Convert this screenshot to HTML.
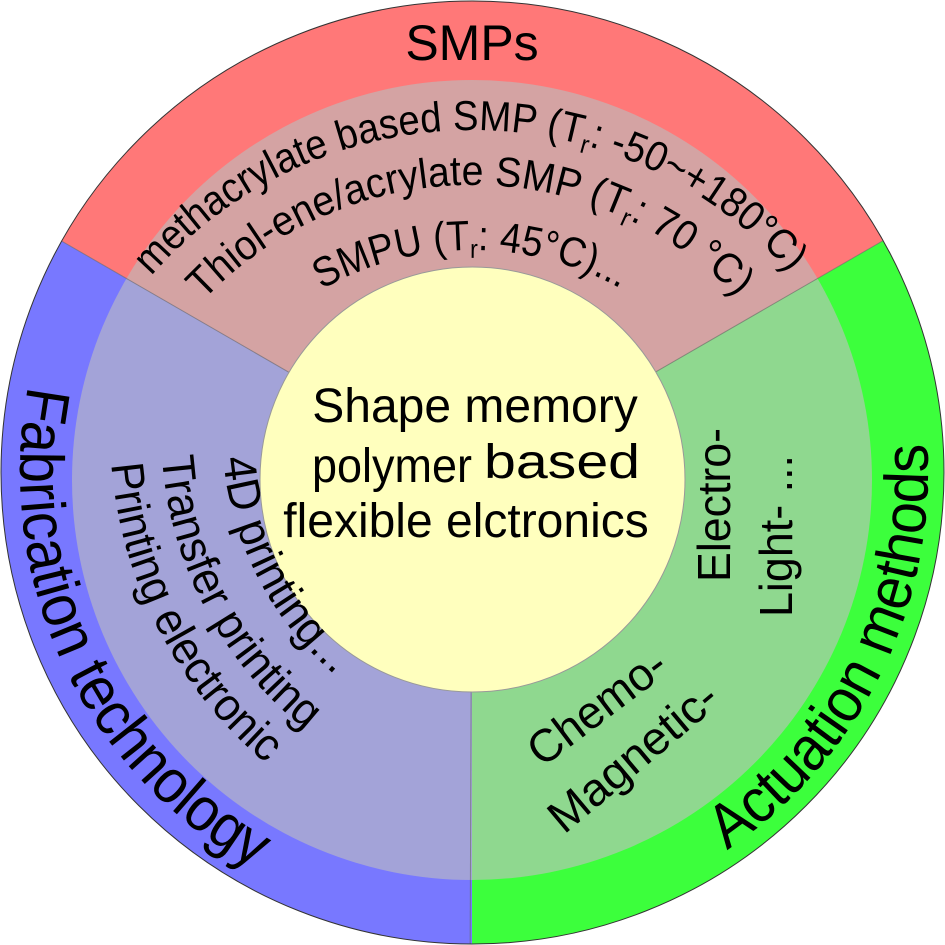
<!DOCTYPE html>
<html><head><meta charset="utf-8"><style>
html,body{margin:0;padding:0;background:#fff;overflow:hidden;width:945px;height:945px;}
svg{display:block;overflow:hidden;}
text{font-family:"Liberation Sans",Arial,sans-serif;fill:#000;}
</style></head><body>
<svg width="945" height="945" viewBox="0 0 945 945" xmlns="http://www.w3.org/2000/svg">
<defs>
<clipPath id="outer"><circle cx="472.5" cy="472.5" r="471.5"/></clipPath>
<clipPath id="inner"><circle cx="472" cy="480" r="400"/></clipPath>
<path id="l1" d="M151.3 276.2 A425 425 0 0 1 792.7 276.2"/>
<path id="l2" d="M203.6 300.3 A370 370 0 0 1 740.4 300.3"/>
<path id="l3" d="M321.8 289.5 A305 305 0 0 1 622.2 289.5"/>
<path id="b1" d="M223.2 458.1 A322 322 0 0 0 337.0 676.7"/>
<path id="b2" d="M161.9 456.7 A383 383 0 0 0 308.2 731.8"/>
<path id="b3" d="M111.3 464.1 A434 434 0 0 0 267.9 764.9"/>
<path id="fab" d="M28.3 385.8 A452 452 0 0 0 252.9 867.3"/>
<path id="act" d="M727 850 A456 456 0 0 0 926.9 440.2"/>
</defs>
<g clip-path="url(#outer)">
<polygon points="472,478 -394,-22 472,-522 1338,-22" fill="#ff7878"/>
<polygon points="472,478 472,1478 -394,978 -394,-22" fill="#7878ff"/>
<polygon points="472,478 1338,-22 1338,978 472,1478" fill="#3cff3c"/>
</g>
<g clip-path="url(#inner)">
<polygon points="472,478 -394,-22 472,-522 1338,-22" fill="#d4a3a3"/>
<polygon points="472,478 472,1478 -394,978 -394,-22" fill="#a3a3d8"/>
<polygon points="472,478 1338,-22 1338,978 472,1478" fill="#8fd88f"/>
</g>
<g clip-path="url(#outer)" stroke="#666" stroke-width="1" opacity="0.6">
<line x1="472" y1="478" x2="-394" y2="-22"/>
<line x1="472" y1="478" x2="1338" y2="-22"/>
<line x1="472" y1="478" x2="468" y2="1478"/>
</g>
<circle cx="472.5" cy="472.5" r="471.5" fill="none" stroke="#333" stroke-width="1"/>
<circle cx="472.5" cy="479.5" r="212.5" fill="#ffffbe" stroke="#999" stroke-width="1"/>

<text x="472" y="60" font-size="50" text-anchor="middle">SMPs</text>

<text font-size="42"><textPath href="#l1" textLength="722" lengthAdjust="spacingAndGlyphs">methacrylate based SMP (T<tspan font-size="26" dy="8">r</tspan><tspan dy="-8">: -50~+180°C)</tspan></textPath></text>
<text font-size="42"><textPath href="#l2" textLength="596" lengthAdjust="spacingAndGlyphs">Thiol-ene/acrylate SMP (T<tspan font-size="26" dy="8">r</tspan><tspan dy="-8">: 70 °C)</tspan></textPath></text>
<text font-size="42"><textPath href="#l3" textLength="312" lengthAdjust="spacingAndGlyphs">SMPU (T<tspan font-size="26" dy="8">r</tspan><tspan dy="-8">: 45°C)...</tspan></textPath></text>

<text font-size="46"><textPath href="#b1" textLength="250" lengthAdjust="spacingAndGlyphs">4D printing...</textPath></text>
<text font-size="46"><textPath href="#b2" textLength="318" lengthAdjust="spacingAndGlyphs">Transfer printing</textPath></text>
<text font-size="46"><textPath href="#b3" textLength="346" lengthAdjust="spacingAndGlyphs">Printing electronic</textPath></text>

<text font-size="62"><textPath href="#fab" textLength="570" lengthAdjust="spacingAndGlyphs">Fabrication technology</textPath></text>
<text font-size="62"><textPath href="#act" textLength="474" lengthAdjust="spacingAndGlyphs">Actuation methods</textPath></text>

<text font-size="46" transform="translate(730,582) rotate(-90)" textLength="154" lengthAdjust="spacingAndGlyphs">Electro-</text>
<text font-size="46" transform="translate(792,617) rotate(-90)" textLength="162" lengthAdjust="spacingAndGlyphs">Light- ...</text>
<text font-size="46" transform="translate(542,768) rotate(-37)" textLength="161" lengthAdjust="spacingAndGlyphs">Chemo-</text>
<text font-size="46" transform="translate(564,835) rotate(-40)" textLength="206" lengthAdjust="spacingAndGlyphs">Magnetic-</text>

<text x="475" y="422" font-size="48" text-anchor="middle">Shape memory</text>
<text x="312" y="482" font-size="48" textLength="160" lengthAdjust="spacingAndGlyphs">polymer</text>
<text x="484" y="478" font-size="48" textLength="156" lengthAdjust="spacingAndGlyphs">based</text>
<text x="466" y="537" font-size="48" text-anchor="middle">flexible elctronics</text>
</svg>
</body></html>
